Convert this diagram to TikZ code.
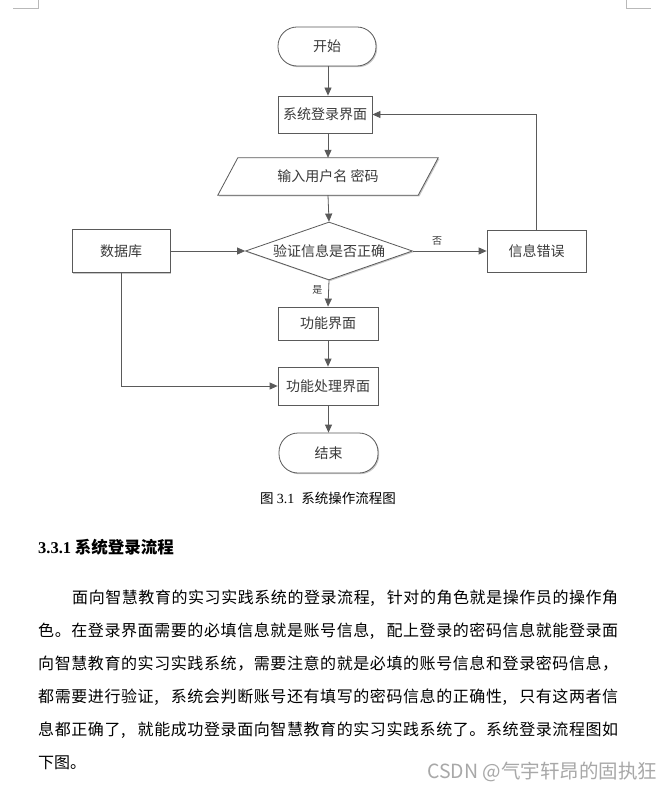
\documentclass[tikz,border=0pt]{standalone}
\usepackage{fontspec}
\setmainfont{Noto Sans CJK SC}
\newfontfamily\tnr{Liberation Serif}
\usetikzlibrary{arrows.meta,shapes.geometric,calc,shadows}
\definecolor{linec}{HTML}{5A5A5A}
\definecolor{textc}{HTML}{3A3A3A}
\definecolor{wmc}{HTML}{A8A8A8}
\newcommand\hc{\makebox[1em][l]{,}}
\def\spreadchars#1#2\relax{#1\spreadaux#2\relax}
\def\spreadaux#1{\ifx\relax#1\else\hfil#1\expandafter\spreadaux\fi}
\newcommand\bodyfont{\fontsize{16}{18}\selectfont}
\begin{document}
\begin{tikzpicture}[x=1pt,y=-1pt,
  shad/.style={drop shadow={shadow xshift=1.2pt,shadow yshift=-1.2pt,opacity=0.22,fill=black}},
  fbox/.style={draw=linec,line width=0.8pt,fill=white,shad,inner sep=0pt,
    text=textc,font=\fontsize{14}{16}\selectfont},
  term/.style={fbox,rounded corners=19pt},
  arr/.style={draw=linec,line width=0.8pt,-{Triangle[length=8pt,width=7pt]}},
  lbl/.style={text=textc,font=\fontsize{10}{12}\selectfont,inner sep=1pt},
  line/.style={anchor=west,inner sep=0pt,font=\bodyfont,text=black}]
\useasboundingbox (0,0) rectangle (671,794);
\fill[white] (0,0) rectangle (671,794);
% page corner marks
\draw[gray!55,line width=0.6pt] (13,8) -- (38,8) -- (38,0);
\draw[gray!55,line width=0.6pt] (626,0) -- (626,8) -- (651,8);
% nodes
\node[term,minimum width=98,minimum height=39] (start) at (327,46.5) {开始};
\node[fbox,minimum width=94,minimum height=37] (login) at (325,114.5) {系统登录界面};
\node[minimum width=200,minimum height=37,inner sep=0pt,text=textc,
  font=\fontsize{14}{16}\selectfont] (input) at (328,176.5) {};
\fill[black,opacity=0.22] ($(input.north west)+(11.2,1.2)$) -- ($(input.north east)+(11.2,1.2)$)
  -- ($(input.south east)+(-8.8,1.2)$) -- ($(input.south west)+(-8.8,1.2)$) -- cycle;
\draw[linec,line width=0.8pt,fill=white] ($(input.north west)+(10,0)$) -- ($(input.north east)+(10,0)$)
  -- ($(input.south east)+(-10,0)$) -- ($(input.south west)+(-10,0)$) -- cycle;
\node[text=textc,font=\fontsize{14}{16}\selectfont] at (input.center) {输入用户名 密码};
\node[fbox,diamond,aspect=2.88,minimum width=167,minimum height=58] (check) at (329,251) {验证信息是否正确};
\node[fbox,minimum width=98,minimum height=43] (db) at (121,251) {数据库};
\node[fbox,minimum width=99,minimum height=42] (err) at (536.5,251) {信息错误};
\node[fbox,minimum width=100,minimum height=33] (func) at (328,323.5) {功能界面};
\node[fbox,minimum width=100,minimum height=38] (proc) at (328,386) {功能处理界面};
\node[term,minimum width=99,minimum height=40] (end) at (328.5,453) {结束};
% connectors
\draw[arr] (start.south -| input.center) -- (input.center |- login.north);
\draw[arr] (input.center |- login.south) -- (input.north);
\draw[arr] (input.south) -- (check.north);
\draw[arr] (check.south) -- node[lbl,pos=0.35,left=5pt] {是} (func.north);
\draw[arr] (func) -- (proc);
\draw[arr] (end.north |- proc.south) -- (end.north);
\draw[arr] (db.east) -- (check.west);
\draw[arr] (check.east) -- node[lbl,pos=0.33,above=4pt] {否} (err.west);
\draw[arr] (err.north) |- (login.east);
\draw[arr] (db.south) |- (proc.west);
% caption
\node[text=black,font=\fontsize{13.5}{15}\selectfont] (cap) at (328,498)
  {图 {\tnr\fontsize{14}{15}\selectfont 3.1}\hspace{7pt}系统操作流程图};
% heading
\node[anchor=west,inner sep=0pt,text=black,font=\bfseries\fontsize{16.5}{18}\selectfont] (head) at (38,547)
  {{\tnr\bfseries 3.3.1} 系统登录流程};
% body
\node[line] (l1) at (72,598) {\makebox[546pt][s]{\spreadchars 面向智慧教育的实习实践系统的登录流程\hc 针对的角色就是操作员的操作角\relax}};
\node[line] (l2) at (38,631) {\makebox[580pt][s]{\spreadchars 色。在登录界面需要的必填信息就是账号信息\hc 配上登录的密码信息就能登录面\relax}};
\node[line] (l3) at (38,664) {\makebox[580pt][s]{\spreadchars 向智慧教育的实习实践系统，需要注意的就是必填的账号信息和登录密码信息，\relax}};
\node[line] (l4) at (38,697) {\makebox[580pt][s]{\spreadchars 都需要进行验证\hc 系统会判断账号还有填写的密码信息的正确性\hc 只有这两者信\relax}};
\node[line] (l5) at (38,730) {\makebox[580pt][s]{\spreadchars 息都正确了\hc 就能成功登录面向智慧教育的实习实践系统了。系统登录流程图如\relax}};
\node[line] (l6) at (38,763) {下图。};
% watermark
\node[anchor=west,inner sep=0pt,text=wmc,font=\fontsize{19.5}{21}\selectfont] (wm) at (427,772) {CSDN @气宇轩昂的固执狂};
\end{tikzpicture}
\end{document}
